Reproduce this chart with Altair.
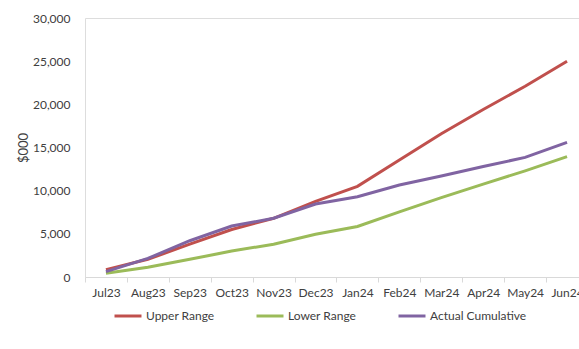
import altair as alt
import pandas as pd

# Monthly cumulative spend, $000
months = ["Jul23", "Aug23", "Sep23", "Oct23", "Nov23", "Dec23",
          "Jan24", "Feb24", "Mar24", "Apr24", "May24", "Jun24"]
upper_range = [850, 2050, 3800, 5500, 6800, 8750, 10500, 13550, 16600, 19400, 22100, 25000]
lower_range = [430, 1120, 2050, 3000, 3800, 4950, 5850, 7550, 9200, 10750, 12300, 13950]
actual_cumulative = [620, 2150, 4200, 5900, 6800, 8450, 9300, 10650, 11700, 12800, 13850, 15600]

series_names = ["Upper Range", "Lower Range", "Actual Cumulative"]
series_colors = ["#C0504D", "#9BBB59", "#8064A2"]

rows = []
for name, values in zip(series_names, [upper_range, lower_range, actual_cumulative]):
    for m, v in zip(months, values):
        rows.append({"Month": m, "Value": v, "Series": name})
df = pd.DataFrame(rows)

FONT = "Lato"
TXT = "#404040"

chart = alt.Chart(df).mark_line(strokeWidth=3).encode(
    x=alt.X(
        "Month:N",
        sort=months,
        bandPosition=0.5,
        title=None,
        scale=alt.Scale(type="band", paddingInner=0, paddingOuter=0, range=[0, 503]),
        axis=alt.Axis(
            tickBand="extent", ticks=True, tickSize=5, tickColor="#D9D9D9",
            domainColor="#D9D9D9", domainWidth=1, labelAngle=0, labelPadding=5,
            labelFont=FONT, labelFontSize=12, labelColor=TXT, grid=False,
        ),
    ),
    y=alt.Y(
        "Value:Q",
        title="$000",
        scale=alt.Scale(domain=[0, 30000], nice=False),
        axis=alt.Axis(
            values=[0, 5000, 10000, 15000, 20000, 25000, 30000], format=",d",
            domain=False, ticks=False, grid=False, labelPadding=15,
            labelFont=FONT, labelFontSize=12, labelColor=TXT,
            titleFont=FONT, titleFontSize=13, titleFontWeight="normal",
            titleColor=TXT, titlePadding=2,
        ),
    ),
    color=alt.Color(
        "Series:N",
        sort=series_names,
        scale=alt.Scale(domain=series_names, range=series_colors),
        legend=alt.Legend(
            title=None, orient="none", direction="horizontal",
            legendX=28, legendY=283, symbolType="stroke", symbolSize=729,
            symbolStrokeWidth=3, columnPadding=35, labelOffset=3,
            labelFont=FONT, labelFontSize=12, labelColor=TXT,
        ),
    ),
).properties(
    width=494,
    height=259,
    autosize=alt.AutoSizeParams(type="none"),
    padding={"left": 85, "top": 18, "right": 0, "bottom": 72},
).configure_view(stroke=None).configure(background="white")

chart.save("out.html", embed_options={"renderer": "svg", "actions": False})
